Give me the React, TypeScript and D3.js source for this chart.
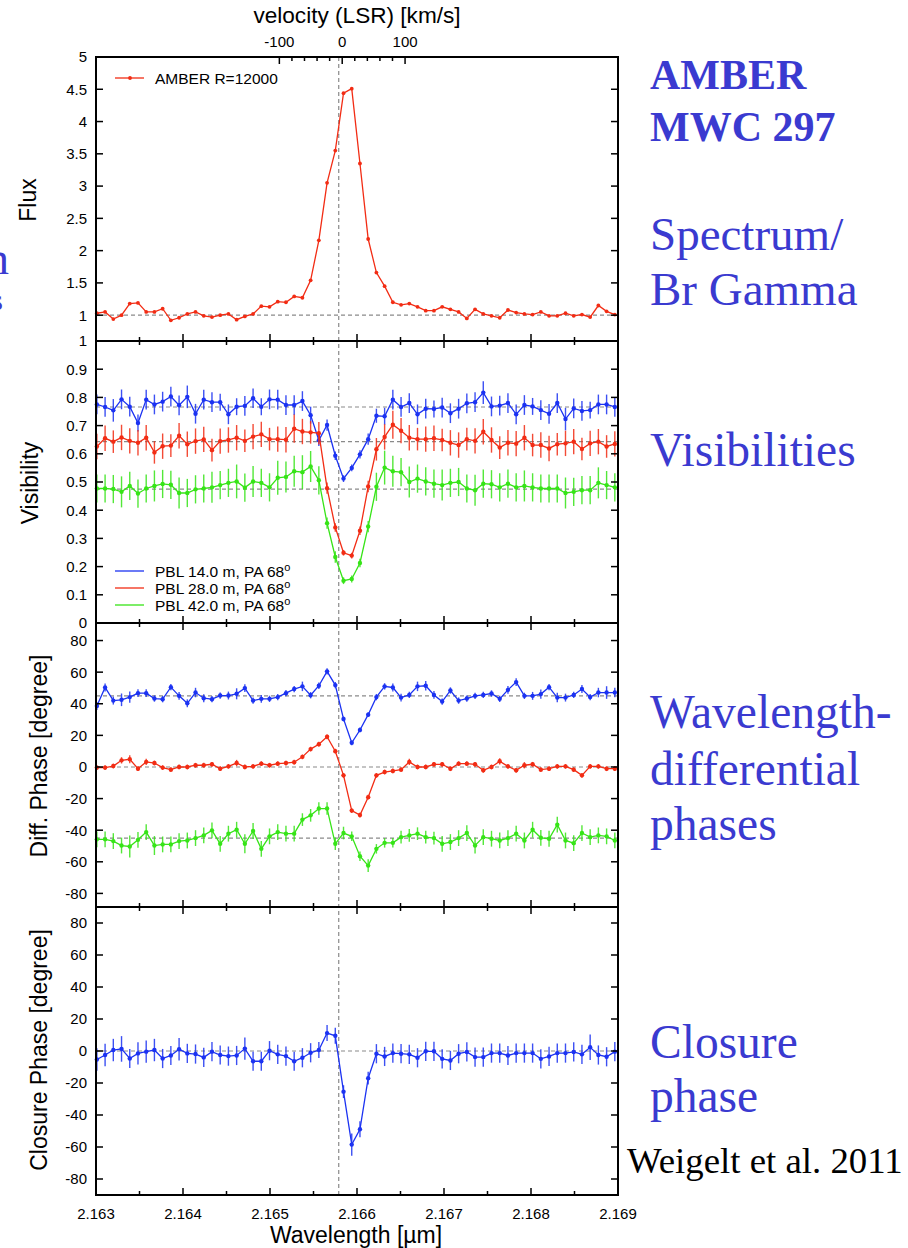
import React from 'react';
import * as d3 from 'd3';

// ---------------- data ----------------
const lambda = [
  2.16301, 2.1631045, 2.163199, 2.1632935, 2.163388, 2.1634825, 2.163577, 2.1636715,
  2.163766, 2.1638605, 2.163955, 2.1640495, 2.164144, 2.1642385, 2.164333, 2.1644275,
  2.164522, 2.1646165, 2.164711, 2.1648055, 2.1649, 2.1649945, 2.165089, 2.1651835,
  2.165278, 2.1653725, 2.165467, 2.1655615, 2.165656, 2.1657505, 2.165845, 2.1659395,
  2.166034, 2.1661285, 2.166223, 2.1663175, 2.166412, 2.1665065, 2.166601, 2.1666955,
  2.16679, 2.1668845, 2.166979, 2.1670735, 2.167168, 2.1672625, 2.167357, 2.1674515,
  2.167546, 2.1676405, 2.167735, 2.1678295, 2.167924, 2.1680185, 2.168113, 2.1682075,
  2.168302, 2.1683965, 2.168491, 2.1685855, 2.16868, 2.1687745, 2.168869, 2.1689635,
];

const flux = [
  1.03, 1.05, 0.94, 1.0, 1.18, 1.19, 1.05, 1.05,
  1.1, 0.92, 0.96, 1.02, 1.05, 0.99, 0.97, 1.0,
  1.02, 0.93, 0.98, 1.02, 1.14, 1.13, 1.21, 1.2,
  1.29, 1.27, 1.54, 2.16, 3.05, 3.55, 4.44, 4.51,
  3.35, 2.18, 1.66, 1.45, 1.2, 1.16, 1.18, 1.13,
  1.07, 1.07, 1.13, 1.09, 1.05, 0.95, 1.09, 1.02,
  0.99, 0.96, 1.08, 1.04, 1.02, 1.01, 1.05, 0.99,
  0.99, 1.03, 0.99, 1.01, 0.97, 1.15, 1.06, 1.01,
];

const visBlue = [
  0.775, 0.766, 0.754, 0.793, 0.767, 0.709, 0.792, 0.775,
  0.785, 0.803, 0.772, 0.802, 0.742, 0.792, 0.783, 0.783,
  0.74, 0.767, 0.77, 0.797, 0.767, 0.793, 0.792, 0.773,
  0.773, 0.787, 0.737, 0.648, 0.702, 0.593, 0.512, 0.55,
  0.598, 0.652, 0.735, 0.733, 0.792, 0.766, 0.78, 0.74,
  0.76, 0.759, 0.764, 0.744, 0.76, 0.779, 0.783, 0.817,
  0.768, 0.771, 0.78, 0.74, 0.773, 0.768, 0.755, 0.742,
  0.78, 0.723, 0.761, 0.752, 0.755, 0.775, 0.775, 0.766,
];
const visBlueErr = [
  0.035, 0.035, 0.04, 0.035, 0.035, 0.03, 0.035, 0.035,
  0.035, 0.035, 0.035, 0.04, 0.035, 0.035, 0.035, 0.03,
  0.035, 0.03, 0.035, 0.035, 0.03, 0.035, 0.035, 0.035,
  0.035, 0.035, 0.03, 0.02, 0.02, 0.015, 0.012, 0.012,
  0.015, 0.02, 0.025, 0.03, 0.035, 0.035, 0.035, 0.035,
  0.035, 0.03, 0.035, 0.035, 0.035, 0.035, 0.035, 0.04,
  0.035, 0.035, 0.035, 0.035, 0.035, 0.03, 0.035, 0.035,
  0.035, 0.04, 0.035, 0.035, 0.03, 0.035, 0.035, 0.035,
];
const visRed = [
  0.626, 0.655, 0.643, 0.658, 0.646, 0.639, 0.657, 0.605,
  0.627, 0.629, 0.664, 0.634, 0.645, 0.651, 0.613, 0.645,
  0.649, 0.657, 0.646, 0.661, 0.669, 0.652, 0.652, 0.65,
  0.689, 0.679, 0.676, 0.673, 0.478, 0.339, 0.249, 0.239,
  0.327, 0.484, 0.616, 0.66, 0.703, 0.682, 0.657, 0.652,
  0.652, 0.655, 0.649, 0.639, 0.631, 0.652, 0.646, 0.678,
  0.649, 0.622, 0.639, 0.636, 0.657, 0.631, 0.631, 0.619,
  0.634, 0.637, 0.643, 0.617, 0.637, 0.643, 0.626, 0.635,
];
const visRedErr = [
  0.045, 0.045, 0.04, 0.045, 0.045, 0.045, 0.045, 0.04,
  0.045, 0.04, 0.045, 0.045, 0.045, 0.045, 0.04, 0.045,
  0.045, 0.045, 0.04, 0.045, 0.045, 0.04, 0.045, 0.045,
  0.05, 0.045, 0.04, 0.04, 0.02, 0.015, 0.01, 0.01,
  0.015, 0.02, 0.04, 0.045, 0.05, 0.045, 0.045, 0.04,
  0.045, 0.045, 0.04, 0.045, 0.045, 0.04, 0.045, 0.045,
  0.045, 0.04, 0.045, 0.045, 0.045, 0.04, 0.045, 0.045,
  0.04, 0.045, 0.045, 0.04, 0.045, 0.045, 0.04, 0.045,
];
const visGreen = [
  0.477, 0.477, 0.475, 0.465, 0.486, 0.459, 0.477, 0.486,
  0.493, 0.49, 0.461, 0.461, 0.474, 0.477, 0.481, 0.489,
  0.497, 0.502, 0.48, 0.502, 0.497, 0.481, 0.515, 0.518,
  0.538, 0.535, 0.555, 0.506, 0.354, 0.234, 0.15, 0.156,
  0.213, 0.342, 0.483, 0.551, 0.538, 0.535, 0.5, 0.512,
  0.502, 0.494, 0.489, 0.497, 0.5, 0.477, 0.471, 0.494,
  0.492, 0.481, 0.494, 0.481, 0.486, 0.481, 0.477, 0.477,
  0.477, 0.461, 0.465, 0.471, 0.471, 0.497, 0.489, 0.481,
];
const visGreenErr = [
  0.05, 0.05, 0.05, 0.055, 0.05, 0.05, 0.05, 0.055,
  0.05, 0.05, 0.055, 0.05, 0.05, 0.05, 0.055, 0.05,
  0.05, 0.06, 0.05, 0.055, 0.05, 0.05, 0.06, 0.055,
  0.055, 0.06, 0.055, 0.05, 0.02, 0.02, 0.012, 0.012,
  0.015, 0.02, 0.05, 0.06, 0.055, 0.05, 0.055, 0.05,
  0.05, 0.05, 0.055, 0.05, 0.05, 0.05, 0.055, 0.05,
  0.05, 0.05, 0.05, 0.05, 0.055, 0.05, 0.05, 0.05,
  0.05, 0.055, 0.05, 0.05, 0.05, 0.055, 0.05, 0.05,
];

const dpBlue = [
  38.6, 50.3, 42.0, 42.5, 44.2, 46.7, 46.7, 43.3,
  42.9, 50.5, 45.0, 40.3, 47.1, 43.5, 42.9, 45.2,
  45.2, 46.3, 49.9, 42.0, 43.1, 43.1, 44.2, 46.7,
  49.3, 51.0, 45.4, 51.4, 60.5, 51.8, 30.4, 15.3,
  23.4, 33.1, 44.2, 51.0, 50.3, 43.9, 45.6, 51.0,
  51.4, 45.6, 41.4, 48.4, 42.0, 43.3, 45.0, 45.6,
  46.5, 43.1, 48.8, 53.7, 45.0, 45.0, 46.1, 50.5,
  43.9, 43.9, 45.6, 49.3, 44.2, 47.1, 47.1, 47.1,
];
const dpBlueErr = [
  2.5, 2.5, 2.5, 4, 3.5, 2.5, 2.5, 2,
  2, 2, 2.5, 2.5, 3, 2.5, 2, 2,
  2.5, 3.5, 2.5, 2, 2.5, 2, 2, 2,
  2, 3, 2, 2, 2, 2, 1.5, 1.5,
  1.5, 1.5, 2, 2, 2.5, 2.5, 2, 3,
  3, 2.5, 2, 2, 2, 2, 2, 2,
  2, 2, 2.5, 2.5, 2, 2.5, 3, 2,
  3, 2.5, 2, 2.5, 2, 3, 4, 3,
];
const dpRed = [
  -0.4, -0.4, 0.6, 4.2, 4.9, -1.1, 3.2, 2.5,
  -0.4, -1.7, 0.0, 0.0, 1.1, 1.1, 1.7, -1.1,
  0.4, 2.5, 0.0, 0.4, 2.1, 1.1, 2.1, 2.5,
  3.0, 6.4, 11.3, 14.4, 19.1, 10.0, -5.3, -27.6,
  -30.4, -19.1, -5.3, -3.2, -2.5, -1.7, 3.2, 0.0,
  0.0, 1.7, 1.7, -1.1, 2.1, 2.1, 1.7, -2.1,
  0.0, 3.6, 0.4, -2.1, 1.1, 1.7, -1.7, -1.1,
  0.4, 0.4, -1.7, -5.3, 0.4, 0.4, -1.1, -1.1,
];
const dpRedErr = [
  1.5, 1.5, 1.5, 2, 2.5, 1.5, 2, 1.5,
  1.5, 1.5, 1.5, 1.5, 1.5, 1.5, 1.5, 1.5,
  1.5, 2, 1.5, 1.5, 1.5, 1.5, 1.5, 1.5,
  1.5, 1.5, 1.5, 1.5, 1.5, 1.5, 1.5, 1.5,
  1.5, 1.5, 1.5, 1.5, 1.5, 1.5, 2, 1.5,
  1.5, 1.5, 1.5, 1.5, 1.5, 1.5, 1.5, 1.5,
  1.5, 2, 1.5, 1.5, 2, 1.5, 1.5, 1.5,
  1.5, 1.5, 1.5, 1.5, 1.5, 1.5, 1.5, 1.5,
];
const dpGreen = [
  -45.8, -45.8, -46.9, -49.7, -50.3, -46.1, -41.2, -49.7,
  -49.0, -49.0, -46.9, -46.5, -45.0, -43.3, -40.1, -48.6,
  -42.2, -39.7, -48.6, -40.5, -51.8, -43.9, -41.2, -42.2,
  -42.2, -33.3, -30.6, -26.3, -26.3, -48.6, -41.8, -43.9,
  -56.5, -62.4, -51.8, -48.0, -48.0, -44.4, -43.3, -42.2,
  -44.4, -45.0, -48.6, -47.5, -45.0, -41.8, -49.7, -44.4,
  -45.4, -46.5, -45.0, -42.2, -46.5, -39.7, -44.8, -45.4,
  -36.5, -46.5, -48.2, -41.8, -44.4, -43.3, -43.9, -46.5,
];
const dpGreenErr = [
  5, 5, 5, 5, 7, 5, 5, 6,
  5, 5, 5, 5, 5, 5, 5, 5,
  5, 5, 6, 5, 5, 5, 5, 5,
  5, 4, 4, 4, 4, 4, 4, 3,
  3, 4, 3, 3, 3, 4, 4, 4,
  4, 4, 5, 5, 5, 5, 5, 5,
  5, 5, 5, 5, 5, 5, 5, 5,
  5, 5, 5, 5, 5, 5, 5, 5,
];

const closurePhase = [
  -5.3, -2.5, 0.6, 1.3, -4.7, -1.5, -0.4, 0.6,
  -4.7, -2.8, 1.1, -1.5, -1.9, -4.0, -0.4, -2.5,
  -3.2, -2.8, 1.5, -6.4, -6.4, 0.2, -2.1, -3.2,
  -6.4, -4.2, -1.1, 0.6, 11.2, 9.5, -25.4, -58.5,
  -48.9, -17.0, -1.7, -3.4, -1.3, -1.7, -2.1, -4.2,
  -0.2, -0.2, -4.9, -5.9, -1.7, -0.6, -3.8, -3.8,
  -1.3, -1.3, -2.8, -1.3, -1.3, -1.3, -4.9, -3.4,
  -1.3, -1.3, -0.6, -2.1, 2.3, -2.5, -3.6, -0.4,
];
const closurePhaseErr = [
  7, 7, 7, 8, 6, 7, 7, 7,
  6, 6, 7, 6, 6, 6, 6, 6,
  6, 6, 7, 6, 6, 6, 6, 6,
  6, 6, 6, 5, 5, 5, 4, 7,
  5, 4, 6, 6, 6, 6, 6, 6,
  6, 6, 6, 6, 6, 6, 6, 6,
  6, 6, 6, 6, 6, 6, 6, 6,
  6, 6, 6, 6, 8, 6, 6, 6,
];

// reference levels
const fluxRef = 1.0;
const visRefs = [0.766, 0.643, 0.475];
const dpRefs = [45, 0, -45];
const cpRef = 0;
const lineCenter = 2.16579; // dashed vertical line
const vel0Lambda = 2.16583; // v = 0 km/s
const SPEED_C = 299792.458;

// ticks
const xMajor = [2.163, 2.164, 2.165, 2.166, 2.167, 2.168, 2.169];
const xMinor = [2.1635, 2.1645, 2.1655, 2.1665, 2.1675, 2.1685];
const velMajor = [-100, 0, 100];
const velMinor = [-80, -60, -40, -20, 20, 40, 60, 80];
const fluxTicks = [1, 1.5, 2, 2.5, 3, 3.5, 4, 4.5, 5];
const visTicks = [0, 0.1, 0.2, 0.3, 0.4, 0.5, 0.6, 0.7, 0.8, 0.9, 1];
const phaseTicks = [-80, -60, -40, -20, 0, 20, 40, 60, 80];

const visLegend = ['PBL 14.0 m, PA 68', 'PBL 28.0 m, PA 68', 'PBL 42.0 m, PA 68'];

// ---------------- layout ----------------
const W = 908;
const H = 1248;
const X0 = 96;
const X1 = 618;
const BLUE = '#1b32f2';
const RED = '#f22c14';
const GREEN = '#36e417';
const TXT_BLUE = '#3a3ad0';
const SANS = '"Liberation Sans", Arial, Helvetica, sans-serif';
const SERIF = '"Liberation Serif", "Times New Roman", serif';

const x = d3.scaleLinear().domain([2.163, 2.169]).range([X0, X1]);
const yFlux = d3.scaleLinear().domain([0.6, 5]).range([341, 57]);
const yVis = d3.scaleLinear().domain([0, 1]).range([623, 341]);
const yDp = d3.scaleLinear().domain([-88.6, 91.1]).range([907, 623]);
const yCp = d3.scaleLinear().domain([-90, 90]).range([1195, 907]);

const velToX = (v: number) => x(vel0Lambda * (1 + v / SPEED_C));

function Series({ ys, errs, y, color, r = 2.2 }: { ys: number[]; errs?: number[]; y: d3.ScaleLinear<number, number>; color: string; r?: number }) {
  const line = d3.line<number>().x((_, i) => x(lambda[i])).y((v) => y(v));
  return (
    <g>
      {errs &&
        ys.map((v, i) => (
          <line key={'e' + i} x1={x(lambda[i])} x2={x(lambda[i])} y1={y(v - errs[i])} y2={y(v + errs[i])} stroke={color} strokeWidth={1.4} opacity={0.85} />
        ))}
      <path d={line(ys) || ''} fill="none" stroke={color} strokeWidth={1.3} />
      {ys.map((v, i) => (
        <circle key={'c' + i} cx={x(lambda[i])} cy={y(v)} r={r} fill={color} />
      ))}
    </g>
  );
}

function Frame({ top, bottom, y, ticks, fmt, showTopX = true }: { top: number; bottom: number; y: d3.ScaleLinear<number, number>; ticks: number[]; fmt: (v: number) => string; showTopX?: boolean }) {
  return (
    <g>
      {ticks.map((t) => (
        <g key={'y' + t}>
          <line x1={X0} x2={X0 + 7} y1={y(t)} y2={y(t)} stroke="#000" strokeWidth={1.5} />
          <line x1={X1} x2={X1 - 7} y1={y(t)} y2={y(t)} stroke="#000" strokeWidth={1.5} />
          <text x={87} y={y(t)} dy="0.36em" textAnchor="end" fontFamily={SANS} fontSize={15} fill="#000">
            {fmt(t)}
          </text>
        </g>
      ))}
      {xMajor.map((t) => (
        <g key={'xm' + t}>
          <line x1={x(t)} x2={x(t)} y1={bottom} y2={bottom - 7} stroke="#000" strokeWidth={1.5} />
          {showTopX && <line x1={x(t)} x2={x(t)} y1={top} y2={top + 7} stroke="#000" strokeWidth={1.5} />}
        </g>
      ))}
      {xMinor.map((t) => (
        <g key={'xn' + t}>
          <line x1={x(t)} x2={x(t)} y1={bottom} y2={bottom - 4} stroke="#000" strokeWidth={1.5} />
          {showTopX && <line x1={x(t)} x2={x(t)} y1={top} y2={top + 4} stroke="#000" strokeWidth={1.5} />}
        </g>
      ))}
      <rect x={X0} y={top} width={X1 - X0} height={bottom - top} fill="none" stroke="#000" strokeWidth={2} />
    </g>
  );
}

function HRef({ v, y }: { v: number; y: d3.ScaleLinear<number, number> }) {
  return <line x1={X0} x2={X1} y1={y(v)} y2={y(v)} stroke="#8a8a8a" strokeWidth={1.2} strokeDasharray="4 3" />;
}

function YTitle({ text, cx, cy }: { text: string; cx: number; cy: number }) {
  return (
    <text transform={`translate(${cx},${cy}) rotate(-90)`} textAnchor="middle" fontFamily={SANS} fontSize={23} fill="#000">
      {text}
    </text>
  );
}

export default function App() {
  const fmtFlux = (v: number) => String(v);
  const fmtVis = (v: number) => (v === 0 ? '0' : v === 1 ? '1' : d3.format('.1f')(v));
  const fmtPh = (v: number) => String(v);
  const legendColors = [BLUE, RED, GREEN];
  return (
    <svg width={W} height={H} style={{ position: 'absolute', left: 0, top: 0, background: '#fff' }} xmlns="http://www.w3.org/2000/svg">
      <rect x={0} y={0} width={W} height={H} fill="#fff" />

      {/* reference dashed lines */}
      <HRef v={fluxRef} y={yFlux} />
      {visRefs.map((v) => (
        <HRef key={'v' + v} v={v} y={yVis} />
      ))}
      {dpRefs.map((v) => (
        <HRef key={'d' + v} v={v} y={yDp} />
      ))}
      <HRef v={cpRef} y={yCp} />
      <line x1={x(lineCenter)} x2={x(lineCenter)} y1={57} y2={1195} stroke="#8a8a8a" strokeWidth={1.2} strokeDasharray="4 3" />

      {/* data */}
      <Series ys={flux} y={yFlux} color={RED} r={1.9} />
      <Series ys={visBlue} errs={visBlueErr} y={yVis} color={BLUE} />
      <Series ys={visRed} errs={visRedErr} y={yVis} color={RED} />
      <Series ys={visGreen} errs={visGreenErr} y={yVis} color={GREEN} />
      <Series ys={dpBlue} errs={dpBlueErr} y={yDp} color={BLUE} />
      <Series ys={dpRed} errs={dpRedErr} y={yDp} color={RED} />
      <Series ys={dpGreen} errs={dpGreenErr} y={yDp} color={GREEN} />
      <Series ys={closurePhase} errs={closurePhaseErr} y={yCp} color={BLUE} />

      {/* frames */}
      <Frame top={57} bottom={341} y={yFlux} ticks={fluxTicks} fmt={fmtFlux} showTopX={false} />
      <Frame top={341} bottom={623} y={yVis} ticks={visTicks} fmt={fmtVis} />
      <Frame top={623} bottom={907} y={yDp} ticks={phaseTicks} fmt={fmtPh} />
      <Frame top={907} bottom={1195} y={yCp} ticks={phaseTicks} fmt={fmtPh} />

      {/* velocity axis on top */}
      {velMajor.map((v) => (
        <g key={'vm' + v}>
          <line x1={velToX(v)} x2={velToX(v)} y1={57} y2={64} stroke="#000" strokeWidth={1.5} />
          <text x={velToX(v)} y={47} textAnchor="middle" fontFamily={SANS} fontSize={15}>
            {String(v)}
          </text>
        </g>
      ))}
      {velMinor.map((v) => (
        <line key={'vn' + v} x1={velToX(v)} x2={velToX(v)} y1={57} y2={61} stroke="#000" strokeWidth={1.5} />
      ))}
      <text x={357} y={23} textAnchor="middle" fontFamily={SANS} fontSize={22.6}>
        velocity (LSR) [km/s]
      </text>

      {/* bottom axis labels */}
      {xMajor.map((t) => (
        <text key={'xl' + t} x={x(t)} y={1219} textAnchor="middle" fontFamily={SANS} fontSize={15}>
          {d3.format('.3f')(t)}
        </text>
      ))}
      <text x={356} y={1243} textAnchor="middle" fontFamily={SANS} fontSize={23}>
        Wavelength [µm]
      </text>

      {/* y titles */}
      <YTitle text="Flux" cx={36} cy={200} />
      <YTitle text="Visibility" cx={38} cy={483} />
      <YTitle text="Diff. Phase [degree]" cx={47} cy={756} />
      <YTitle text="Closure Phase [degree]" cx={47} cy={1050} />

      {/* legends */}
      <line x1={115} x2={144} y1={78} y2={78} stroke={RED} strokeWidth={1.3} />
      <circle cx={130} cy={78} r={1.9} fill={RED} />
      <text x={155} y={83.5} fontFamily={SANS} fontSize={15.5}>
        AMBER R=12000
      </text>
      {visLegend.map((s, i) => (
        <g key={'lg' + i}>
          <line x1={115} x2={144} y1={571 + i * 17} y2={571 + i * 17} stroke={legendColors[i]} strokeWidth={1.3} />
          <text x={155} y={576.5 + i * 17} fontFamily={SANS} fontSize={15.5}>
            {s}
            <tspan dy={-6} fontSize={11}>
              o
            </tspan>
          </text>
        </g>
      ))}

      {/* right-hand slide text */}
      <g fontFamily={SERIF} fill={TXT_BLUE}>
        <text x={650} y={89} fontSize={42} fontWeight="bold">AMBER</text>
        <text x={650} y={141} fontSize={42} fontWeight="bold">MWC 297</text>
        <text x={650} y={250} fontSize={47}>Spectrum/</text>
        <text x={650} y={305} fontSize={47}>Br Gamma</text>
        <text x={650} y={466} fontSize={47.5}>Visibilities</text>
        <text x={650} y={728} fontSize={47.5}>Wavelength-</text>
        <text x={650} y={785} fontSize={47.5}>differential</text>
        <text x={650} y={840} fontSize={47.5}>phases</text>
        <text x={650} y={1058} fontSize={47.5}>Closure</text>
        <text x={650} y={1112} fontSize={47.5}>phase</text>
        <text x={9} y={274} fontSize={46} textAnchor="end">n</text>
        <text x={3} y={310} fontSize={30} textAnchor="end">s</text>
      </g>
      <text x={627} y={1173} fontFamily={SERIF} fontSize={36.8} fill="#000">
        Weigelt et al. 2011
      </text>
    </svg>
  );
}
